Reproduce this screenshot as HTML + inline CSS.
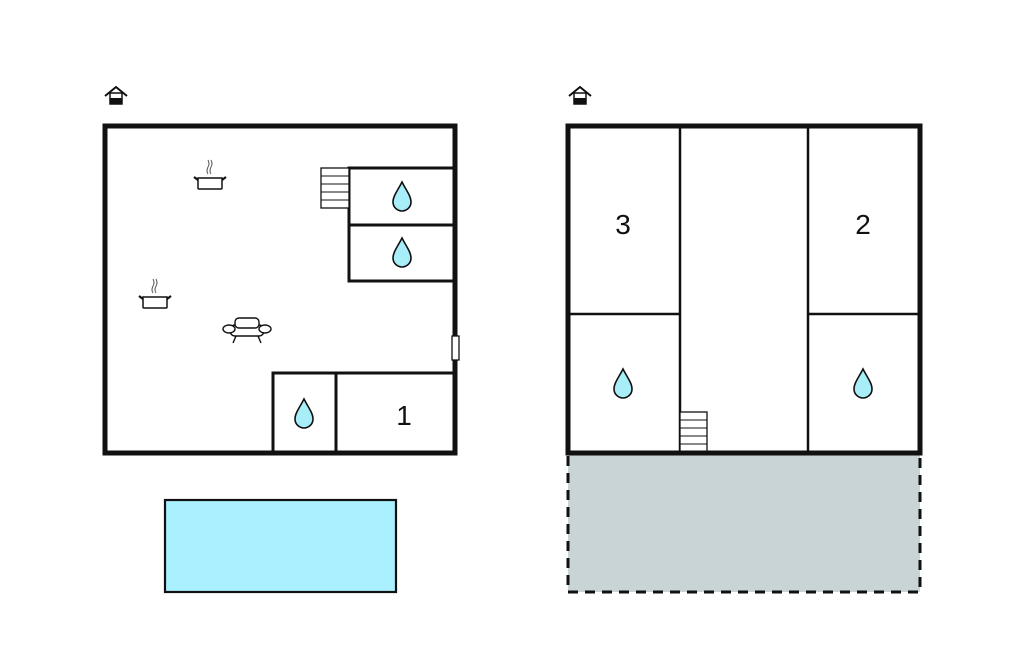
<!DOCTYPE html>
<html><head><style>body{margin:0;background:#fff}svg{display:block}</style></head><body>
<svg width="1024" height="652" viewBox="0 0 1024 652" xmlns="http://www.w3.org/2000/svg">
<defs>
<g id="drop"><path d="M0,-15 C4,-7 9,-1 9,5 A9,9 0 0 1 -9,5 C-9,-1 -4,-7 0,-15Z" fill="#a8eef8" stroke="#111" stroke-width="1.6"/></g>
<g id="house"><path d="M-11,1 L0,-8 L11,1" fill="none" stroke="#111" stroke-width="2"/><rect x="-6" y="-2" width="12" height="11" fill="#fff" stroke="#111" stroke-width="1.5"/><rect x="-6" y="3" width="12" height="6" fill="#111"/></g>
<g id="pot"><path d="M-12,-3 h24 v10 a1,1 0 0 1 -1,1 h-22 a1,1 0 0 1 -1,-1z" fill="#fff" stroke="#111" stroke-width="1.5"/><path d="M-12,-1 l-4,-3 M12,-1 l4,-3" stroke="#111" stroke-width="2.2"/><path d="M-2,-7 q-2,-3 0,-7 q2,-3 0,-7 M1,-7 q-2,-3 0,-7 q2,-3 0,-7" fill="none" stroke="#555" stroke-width="1"/></g>
</defs>
<use href="#house" x="116" y="95"/>
<use href="#house" x="580" y="95"/>
<rect x="105" y="126" width="350" height="327" fill="#fff" stroke="#111" stroke-width="5"/>
<rect x="349" y="168" width="106" height="57" fill="#fff" stroke="#111" stroke-width="3"/>
<rect x="349" y="225" width="106" height="56" fill="#fff" stroke="#111" stroke-width="3"/>
<rect x="321" y="168" width="28" height="40" fill="#fff" stroke="#111" stroke-width="1.3"/>
<path d="M321,176h28M321,184h28M321,192h28M321,200h28" stroke="#111" stroke-width="1"/>
<use href="#drop" x="402" y="197"/>
<use href="#drop" x="402" y="253"/>
<rect x="273" y="373" width="182" height="80" fill="#fff" stroke="#111" stroke-width="3"/>
<line x1="336" y1="373" x2="336" y2="453" stroke="#111" stroke-width="3"/>
<line x1="105" y1="453" x2="455" y2="453" stroke="#111" stroke-width="5"/>
<line x1="455" y1="126" x2="455" y2="453" stroke="#111" stroke-width="5"/>
<use href="#drop" x="304" y="414"/>
<text x="404" y="425" font-family="Liberation Sans, sans-serif" font-size="28" text-anchor="middle" fill="#111">1</text>
<rect x="452" y="336" width="7" height="24" fill="#fff" stroke="#111" stroke-width="1.3"/>
<use href="#pot" x="210" y="181"/>
<use href="#pot" x="155" y="300"/>
<g transform="translate(247,328)" fill="#fff" stroke="#111" stroke-width="1.4"><path d="M-11,8 l-3,7 M11,8 l3,7"/><rect x="-17" y="-3" width="34" height="11" rx="5"/><rect x="-12" y="-10" width="24" height="10" rx="4"/><ellipse cx="-18" cy="1" rx="6" ry="4"/><ellipse cx="18" cy="1" rx="6" ry="4"/></g>
<rect x="165" y="500" width="231" height="92" fill="#aaf0fe" stroke="#111" stroke-width="2.2"/>
<rect x="568" y="453" width="352" height="139" fill="#c8d4d6" stroke="#111" stroke-width="3" stroke-dasharray="10,7"/>
<rect x="568" y="126" width="352" height="327" fill="#fff" stroke="#111" stroke-width="5"/>
<path d="M680,126V453M808,126V453M568,314H680M808,314H920" stroke="#111" stroke-width="2.5"/>
<rect x="680" y="412" width="27" height="41" fill="#fff" stroke="#111" stroke-width="1.3"/>
<path d="M680,420h27M680,428h27M680,436h27M680,444h27" stroke="#111" stroke-width="1"/>
<line x1="568" y1="453" x2="920" y2="453" stroke="#111" stroke-width="5"/>
<text x="623" y="234" font-family="Liberation Sans, sans-serif" font-size="28" text-anchor="middle" fill="#111">3</text>
<text x="863" y="234" font-family="Liberation Sans, sans-serif" font-size="28" text-anchor="middle" fill="#111">2</text>
<use href="#drop" x="623" y="384"/>
<use href="#drop" x="863" y="384"/>
</svg>
</body></html>
